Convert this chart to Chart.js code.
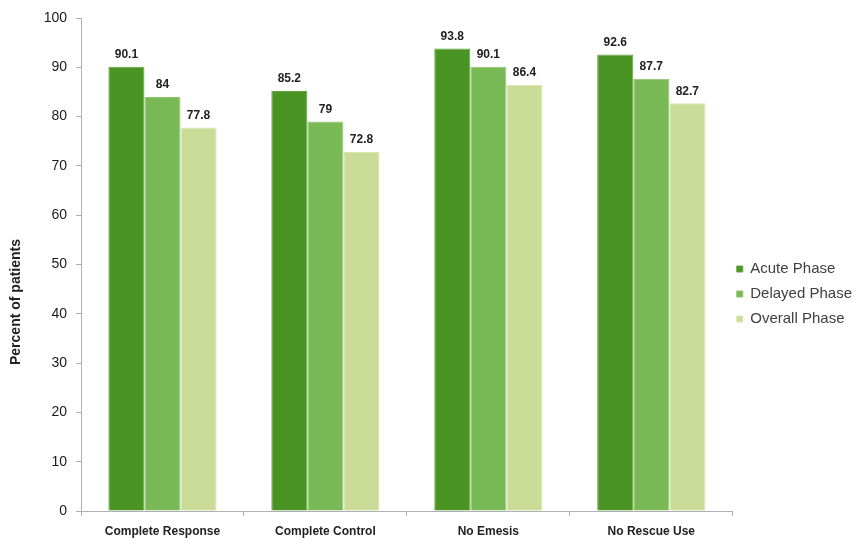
<!DOCTYPE html>
<html>
<head>
<meta charset="utf-8">
<script src="https://cdn.jsdelivr.net/npm/chart.js@4/dist/chart.umd.min.js"></script>
<style>
  html, body { margin: 0; padding: 0; background: #ffffff; }
  #wrap { width: 858px; height: 544px; }
</style>
</head>
<body>
<div id="wrap"><canvas id="c" width="858" height="544"></canvas></div>
<script>
const categories = ['Complete Response', 'Complete Control', 'No Emesis', 'No Rescue Use'];
const acutePhase = [90.1, 85.2, 93.8, 92.6];
const delayedPhase = [84, 79, 90.1, 87.7];
const overallPhase = [77.8, 72.8, 86.4, 82.7];
const seriesNames = ['Acute Phase', 'Delayed Phase', 'Overall Phase'];
const yTicks = [0, 10, 20, 30, 40, 50, 60, 70, 80, 90, 100];
const yTitle = 'Percent of patients';

const FONT = '"Liberation Sans", Arial, sans-serif';

const valueLabels = {
  id: 'valueLabels',
  afterDatasetsDraw(chart) {
    const ctx = chart.ctx;
    ctx.save();
    ctx.font = 'bold 12px ' + FONT;
    ctx.fillStyle = '#222222';
    ctx.textAlign = 'center';
    ctx.textBaseline = 'middle';
    chart.data.datasets.forEach((ds, di) => {
      const meta = chart.getDatasetMeta(di);
      meta.data.forEach((bar, i) => {
        ctx.fillText(String(ds.data[i]), bar.x, bar.y - 12);
      });
    });
    ctx.restore();
  }
};

const yTitlePlugin = {
  id: 'yTitlePlugin',
  afterDraw(chart) {
    const ctx = chart.ctx;
    ctx.save();
    ctx.font = 'bold 14px ' + FONT;
    ctx.fillStyle = '#222222';
    ctx.textAlign = 'center';
    ctx.textBaseline = 'middle';
    ctx.translate(16, 302);
    ctx.rotate(-Math.PI / 2);
    ctx.fillText(yTitle, 0, 0);
    ctx.restore();
  }
};

const legendShift = {
  id: 'legendShift',
  afterLayout(chart) {
    const lg = chart.legend;
    if (!lg) return;
    lg.top += 13; lg.bottom += 13;
    lg.left -= 6; lg.right -= 6;
  }
};

new Chart(document.getElementById('c'), {
  type: 'bar',
  data: {
    labels: categories,
    datasets: [
      { label: seriesNames[0], data: acutePhase, backgroundColor: '#4a9424', borderColor: '#5fa53c', borderWidth: 1 },
      { label: seriesNames[1], data: delayedPhase, backgroundColor: '#79b956', borderColor: '#8fc56f', borderWidth: 1 },
      { label: seriesNames[2], data: overallPhase, backgroundColor: '#cadc98', borderColor: '#d8e6b0', borderWidth: 1 }
    ]
  },
  options: {
    responsive: false,
    animation: false,
    devicePixelRatio: 1,
    datasets: { bar: { categoryPercentage: 0.664, barPercentage: 1.0 } },
    layout: { padding: { top: 18, left: 0, right: -10, bottom: 0 } },
    plugins: {
      legend: {
        position: 'right',
        labels: {
          boxWidth: 6, boxHeight: 6, padding: 10,
          color: '#404040',
          font: { family: FONT, size: 15 }
        }
      },
      tooltip: { enabled: false },
      title: { display: false }
    },
    scales: {
      x: {
        grid: { display: true, drawOnChartArea: false, drawTicks: true, tickLength: 5, color: '#b0b0b0', offset: true },
        border: { display: true, color: '#b0b0b0', width: 1 },
        ticks: { color: '#222222', font: { family: FONT, size: 12, weight: 'bold' }, padding: 8, maxRotation: 0 },
        afterFit(scale) { scale.height = 33; }
      },
      y: {
        min: 0, max: 100,
        afterBuildTicks(scale) { scale.ticks = yTicks.map(v => ({ value: v })); },
        grid: { display: true, drawOnChartArea: false, drawTicks: true, tickLength: 5, color: '#b0b0b0' },
        border: { display: true, color: '#b0b0b0', width: 1 },
        ticks: { color: '#1a1a1a', font: { family: FONT, size: 14 }, padding: 9 },
        afterFit(scale) { scale.width = 81; }
      }
    }
  },
  plugins: [valueLabels, yTitlePlugin, legendShift]
});
</script>
</body>
</html>
